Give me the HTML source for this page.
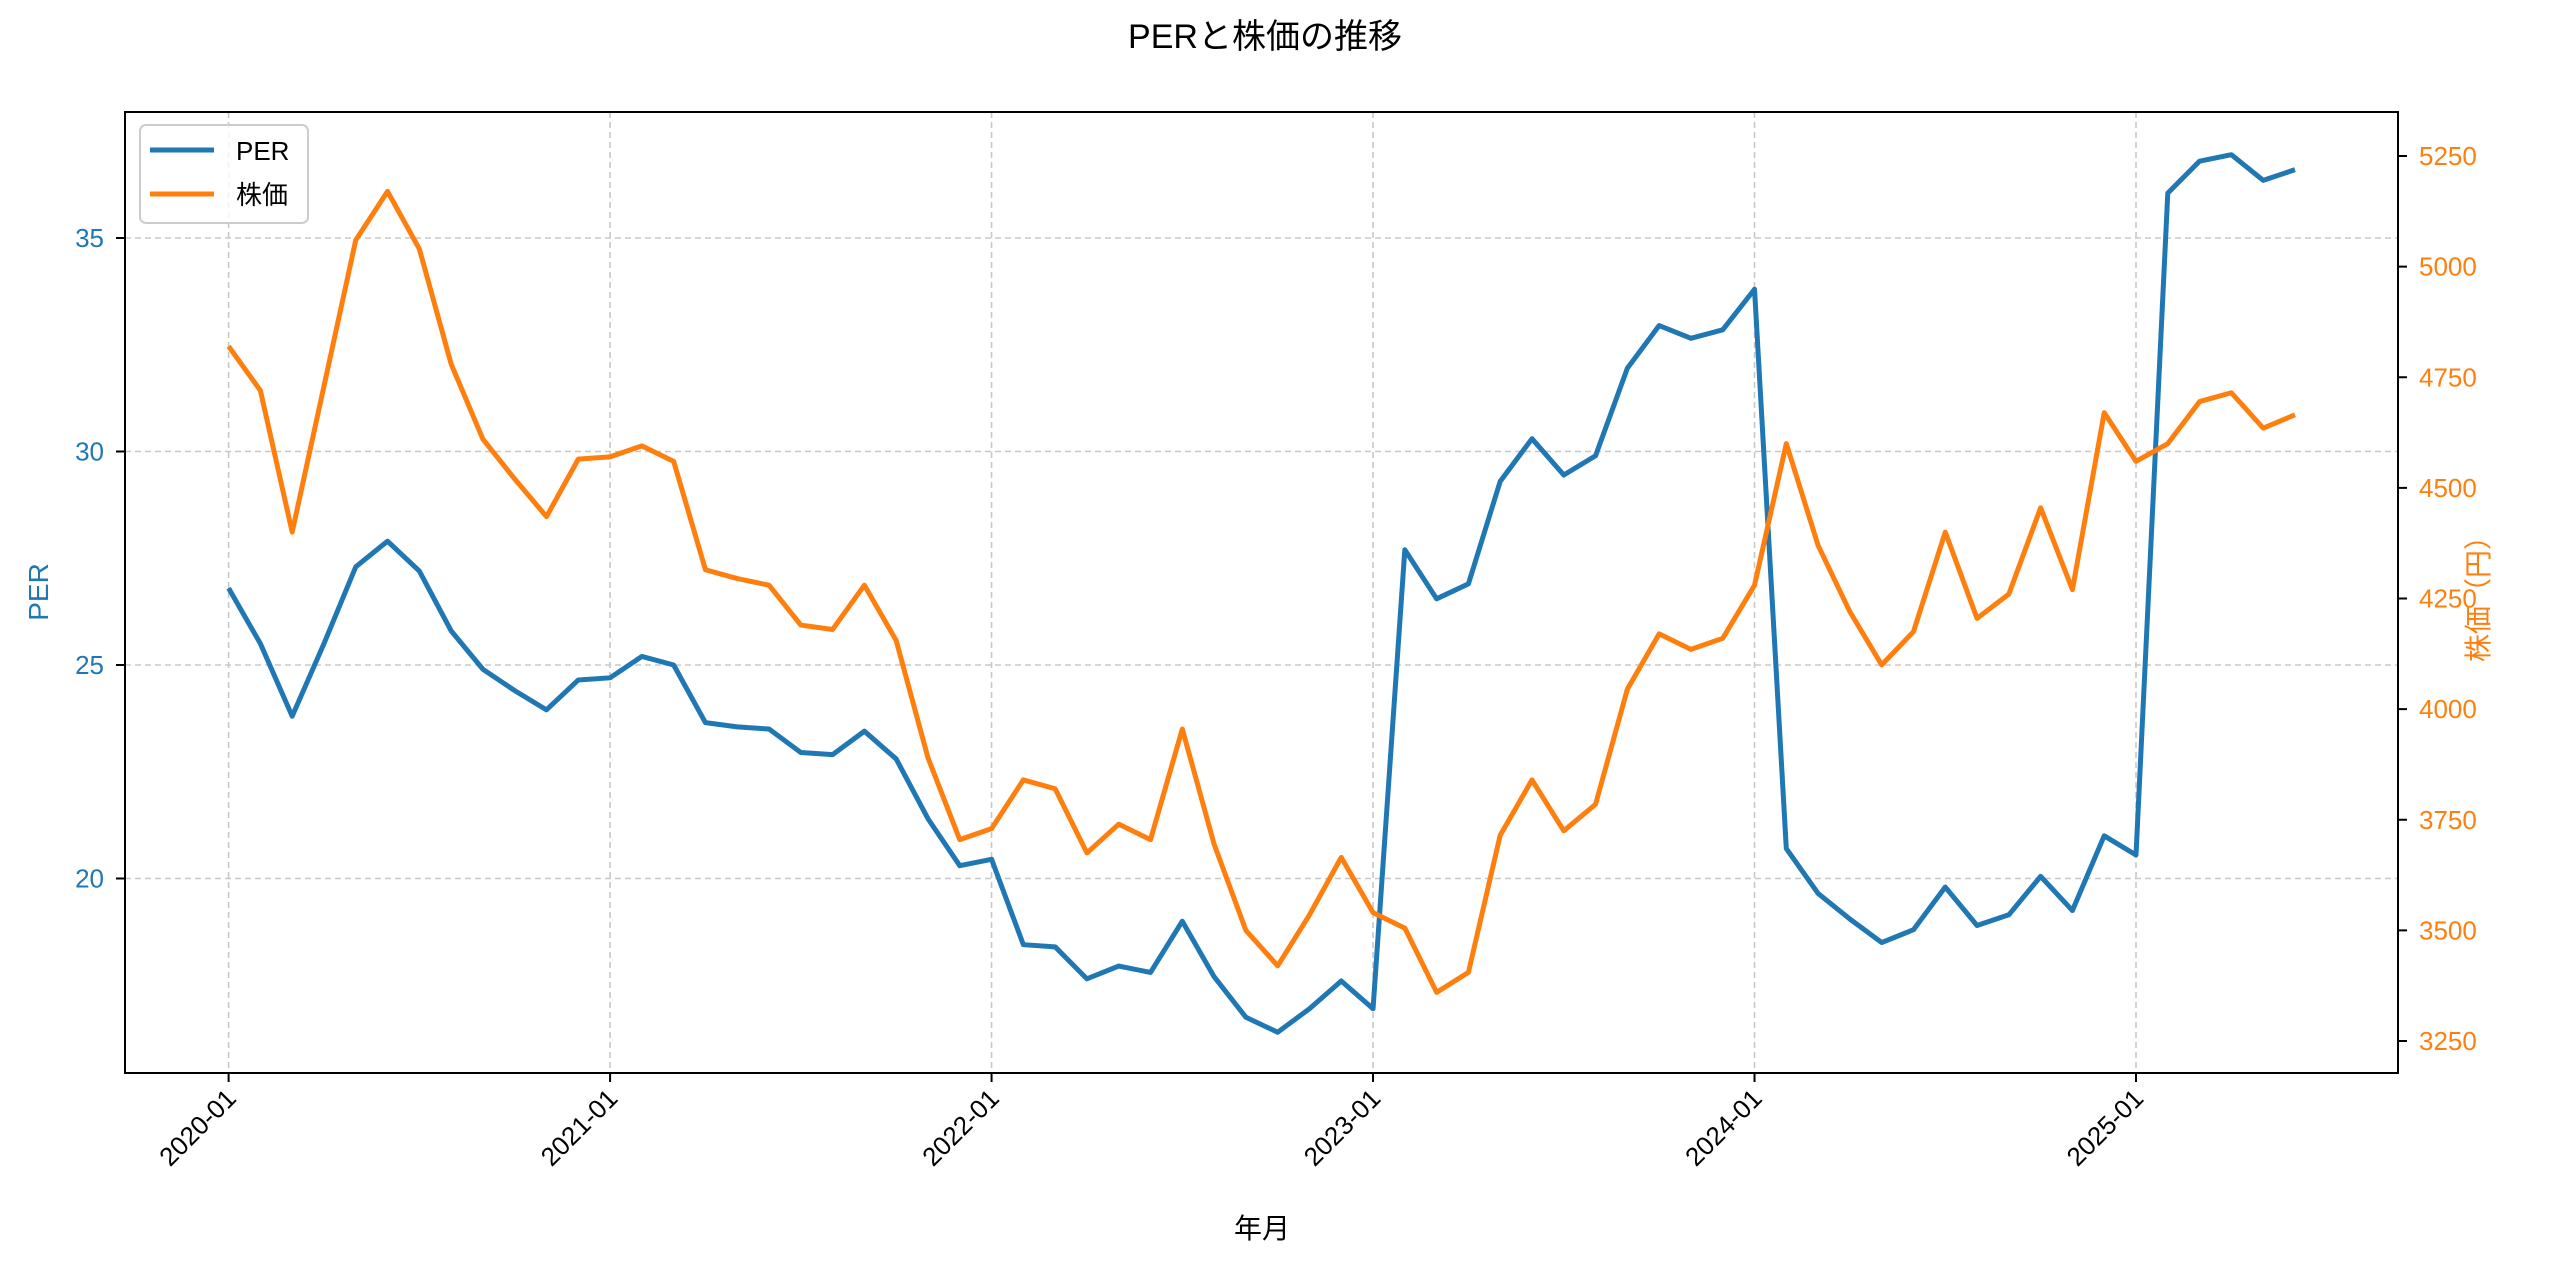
<!DOCTYPE html>
<html><head><meta charset="utf-8"><style>
body{margin:0;background:#fff}
svg text{font-family:"Liberation Sans","Noto Sans CJK JP",sans-serif}
</style></head><body>
<svg id="c" width="2560" height="1268" xmlns="http://www.w3.org/2000/svg">
<text x="1265" y="48" font-size="34" text-anchor="middle">PERと株価の推移</text>
<g id="grid"></g>
<g id="lines"></g>
<rect x="125" y="112" width="2273" height="961" fill="none" stroke="#000" stroke-width="2"/>
<g id="axes"></g>
<text transform="translate(48,592) rotate(-90)" font-size="28" fill="#1f77b4" text-anchor="middle">PER</text>
<text transform="translate(2488,592) rotate(-90)" font-size="28" fill="#ff7f0e" text-anchor="middle">株価（円）</text>
<text x="1262" y="1238" font-size="28" text-anchor="middle">年月</text>
<g>
<rect x="140" y="125" width="168" height="98" rx="6" fill="#fff" fill-opacity="0.8" stroke="#ccc" stroke-width="2"/>
<line x1="150" y1="150" x2="214" y2="150" stroke="#1f77b4" stroke-width="5"/>
<text x="236" y="160" font-size="26">PER</text>
<line x1="150" y1="194" x2="214" y2="194" stroke="#ff7f0e" stroke-width="5"/>
<text x="236" y="204" font-size="26">株価</text>
</g>
</svg>
<script>
const per=[26.8,25.5,23.8,25.5,27.3,27.9,27.2,25.8,24.9,24.4,23.95,24.65,
24.7,25.2,25.0,23.65,23.55,23.5,22.95,22.9,23.45,22.8,21.4,20.3,
20.45,18.45,18.4,17.65,17.95,17.8,19.0,17.7,16.75,16.4,16.95,17.6,
16.95,27.7,26.55,26.9,29.3,30.3,29.45,29.9,31.95,32.95,32.65,32.85,
33.8,20.7,19.65,19.05,18.5,18.8,19.8,18.9,19.15,20.05,19.25,21.0,
20.55,36.05,36.8,36.95,36.35,36.6];
const price=[4820,4720,4400,4730,5060,5170,5040,4780,4610,4520,4435,4565,
4570,4595,4560,4315,4295,4280,4190,4180,4280,4155,3890,3705,
3730,3840,3820,3675,3740,3705,3955,3695,3500,3420,3535,3665,
3540,3505,3360,3405,3715,3840,3725,3785,4045,4170,4135,4160,
4280,4600,4370,4220,4100,4175,4400,4205,4260,4455,4270,4670,
4560,4600,4695,4715,4635,4665];
const xTickLabels=["2020-01","2021-01","2022-01","2023-01","2024-01","2025-01"];
const leftTicks=[20,25,30,35];
const rightTicks=[3250,3500,3750,4000,4250,4500,4750,5000,5250];
const X=i=>228.6+i*(2136-228.6)/60;
const YL=v=>238+(35-v)*42.7;
const YR=v=>1041-(v-3250)*0.4425;
const NS="http://www.w3.org/2000/svg";
function mk(t,a,p){const e=document.createElementNS(NS,t);for(const k in a)e.setAttribute(k,a[k]);p.appendChild(e);return e;}
const grid=document.getElementById('grid'),axes=document.getElementById('axes'),lines=document.getElementById('lines');
xTickLabels.forEach((l,k)=>{const x=X(k*12);
const g=mk('line',{x1:x,y1:112,x2:x,y2:1073,stroke:'#c8c8c8','stroke-width':1.6,'stroke-dasharray':'6,4'},grid);


const t=mk('line',{x1:x,y1:1073,x2:x,y2:1082,stroke:'#000','stroke-width':2},axes);


const tx=mk('text',{transform:`translate(${x+9},1100) rotate(-45)`,'font-size':26,'text-anchor':'end'},axes);tx.textContent=l;

});
leftTicks.forEach(v=>{const y=YL(v);
const g=mk('line',{x1:125,y1:y,x2:2398,y2:y,stroke:'#c8c8c8','stroke-width':1.6,'stroke-dasharray':'6,4'},grid);


const t=mk('line',{x1:116,y1:y,x2:125,y2:y,stroke:'#000','stroke-width':2},axes);


const tx=mk('text',{x:104,y:y+9,'font-size':26,'text-anchor':'end',fill:'#1f77b4'},axes);tx.textContent=v;

});
rightTicks.forEach(v=>{const y=YR(v);
const t=mk('line',{x1:2398,y1:y,x2:2407,y2:y,stroke:'#000','stroke-width':2},axes);


const tx=mk('text',{x:2419,y:y+9,'font-size':26,fill:'#ff7f0e'},axes);tx.textContent=v;

});
const pl=mk('polyline',{points:per.map((v,i)=>X(i)+','+YL(v)).join(' '),fill:'none',stroke:'#1f77b4','stroke-width':5,'stroke-linejoin':'round'},lines);


const pp=mk('polyline',{points:price.map((v,i)=>X(i)+','+YR(v)).join(' '),fill:'none',stroke:'#ff7f0e','stroke-width':5,'stroke-linejoin':'round'},lines);


</script>
</body></html>
